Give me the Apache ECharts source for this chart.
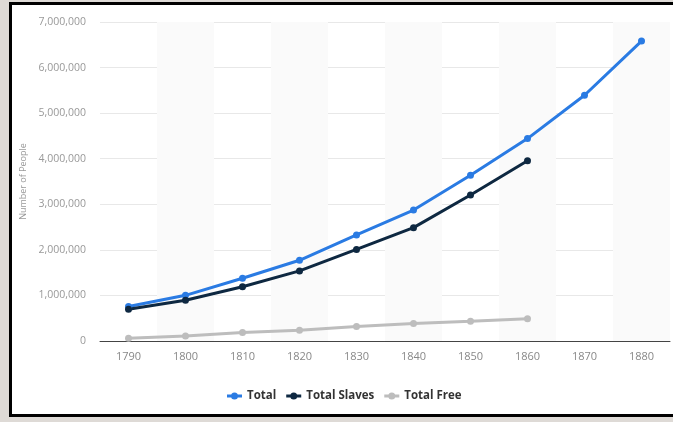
<!DOCTYPE html>
<html>
<head>
<meta charset="utf-8">
<script src="https://cdn.jsdelivr.net/npm/echarts@6/dist/echarts.min.js"></script>
<style>
  html, body { margin: 0; padding: 0; width: 673px; height: 422px; overflow: hidden; background: #dedad6; }
  #frame { position: absolute; left: 9px; top: 2px; width: 700px; height: 415px; box-sizing: border-box;
           border: 3px solid #000; background: #fff; }
  #chart { position: absolute; left: 0; top: 0; width: 673px; height: 422px; }
</style>
</head>
<body>
<div id="frame"></div>
<div id="chart"></div>
<script>
// Census years and population counts (African American population, US)
const years = ['1790', '1800', '1810', '1820', '1830', '1840', '1850', '1860', '1870', '1880'];
const totalPeople = [757208, 1002037, 1377808, 1771656, 2328642, 2873648, 3638808, 4441830, 5392172, 6580793];
const totalSlaves = [697681, 893602, 1191362, 1538022, 2009043, 2487355, 3204313, 3953760, null, null];
const totalFree = [59527, 108435, 186446, 233634, 319599, 386293, 434495, 488070, null, null];

const font = '"Open Sans", "DejaVu Sans", sans-serif';
// thick line with a dot in the middle, used as the legend marker
const legendIcon = 'path://M0,2 L15,2 L15,5 L0,5 Z M4,3.5 A3.5,3.5 0 1 1 11,3.5 A3.5,3.5 0 1 1 4,3.5 Z';

function lineSeries(name, data, color) {
  return {
    name: name,
    type: 'line',
    data: data,
    symbol: 'circle',
    symbolSize: 7,
    showSymbol: true,
    lineStyle: { width: 3, color: color },
    itemStyle: { color: color },
    connectNulls: false
  };
}

const chart = echarts.init(document.getElementById('chart'), null, { renderer: 'canvas' });
chart.setOption({
  backgroundColor: 'transparent',
  animation: false,
  color: ['#2a7be3', '#0e2841', '#bdbdbd'],
  grid: { left: 100, right: 3, top: 22, bottom: 81 },
  legend: {
    bottom: 15,
    left: 222,
    itemWidth: 15,
    itemHeight: 7,
    itemGap: 10,
    icon: legendIcon,
    textStyle: { fontFamily: font, fontWeight: 'bold', fontSize: 11.5, color: '#333' },
    data: ['Total', 'Total Slaves', 'Total Free']
  },
  xAxis: {
    type: 'category',
    data: years,
    boundaryGap: true,
    axisLine: { lineStyle: { color: '#444', width: 1 } },
    axisTick: { show: false },
    axisLabel: { fontFamily: font, fontSize: 11, color: '#888', margin: 10 },
    splitArea: { show: true, areaStyle: { color: ['rgba(255,255,255,0)', '#fafafa'] } }
  },
  yAxis: {
    type: 'value',
    min: 0,
    max: 7000000,
    interval: 1000000,
    name: 'Number of People',
    nameLocation: 'middle',
    nameGap: 68,
    nameTextStyle: { fontFamily: font, fontSize: 9, color: '#999' },
    axisLine: { show: false },
    axisTick: { show: false },
    axisLabel: {
      fontFamily: font, fontSize: 10.5, color: '#999', margin: 14,
      formatter: v => v.toLocaleString('en-US')
    },
    splitLine: { lineStyle: { color: '#e8e8e8', width: 1 } }
  },
  series: [
    lineSeries('Total', totalPeople, '#2a7be3'),
    lineSeries('Total Slaves', totalSlaves, '#0e2841'),
    lineSeries('Total Free', totalFree, '#bdbdbd')
  ]
});
</script>
</body>
</html>
